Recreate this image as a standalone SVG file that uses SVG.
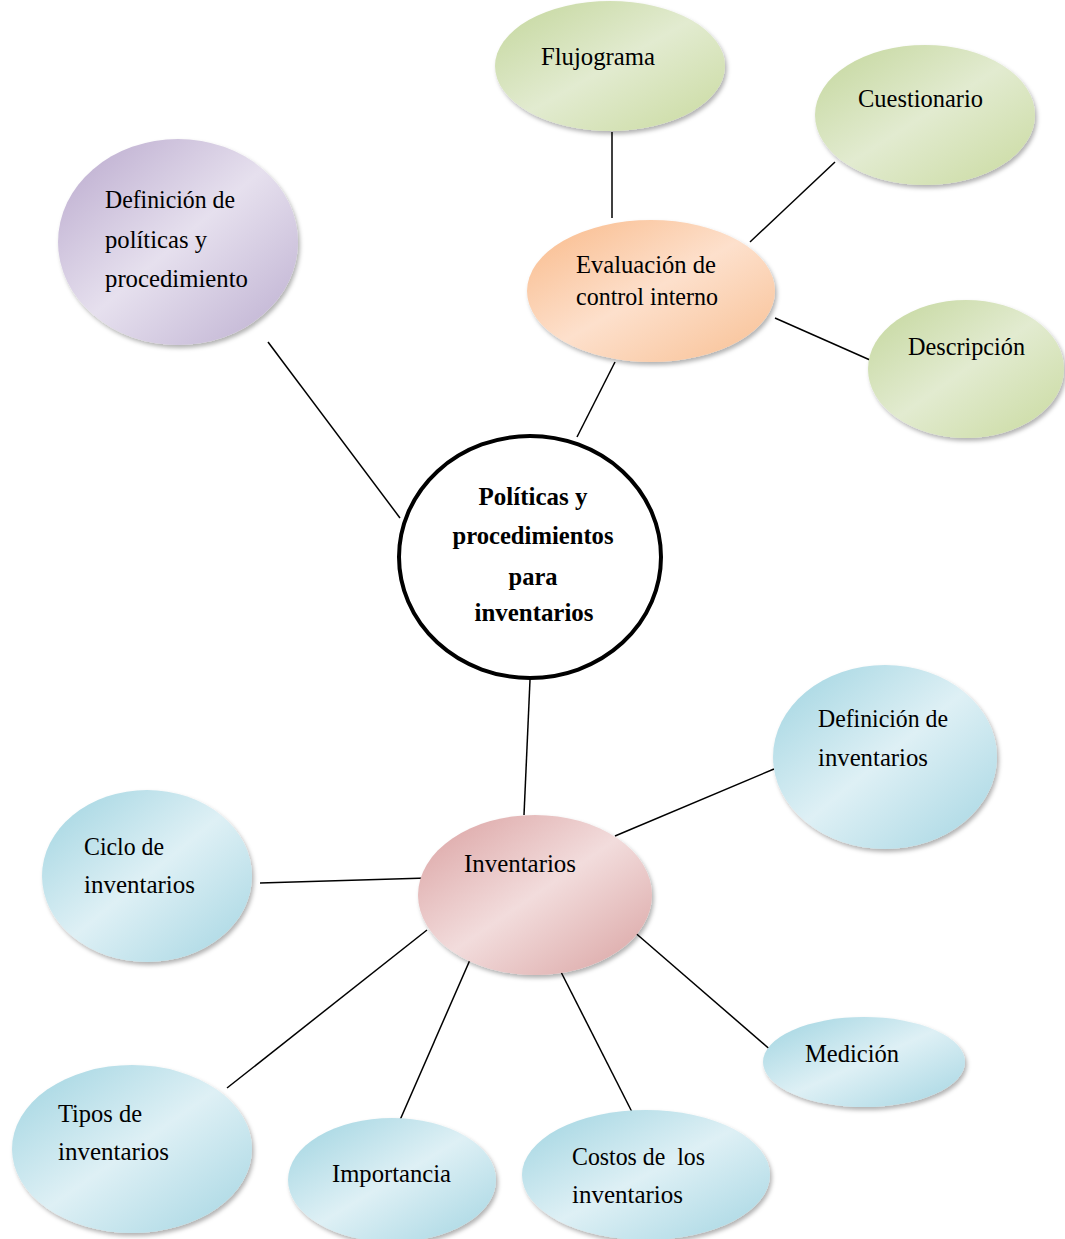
<svg xmlns="http://www.w3.org/2000/svg" width="1065" height="1239" viewBox="0 0 1065 1239">
<style>
.t{font-family:"Liberation Serif","Times New Roman",serif;font-size:26px;fill:#000;}
.b{font-weight:bold;text-anchor:middle;}
.c line{stroke:#000;stroke-width:1.5;}
.n ellipse{filter:url(#sh);}
</style>
<defs>
<filter id="sh" x="-10%" y="-10%" width="125%" height="125%">
<feDropShadow dx="2" dy="3" stdDeviation="2" flood-color="#000" flood-opacity="0.3"/>
</filter>
<linearGradient id="gG" x1="0" y1="0" x2="1" y2="1">
<stop offset="0" stop-color="#c3d69b"/><stop offset="0.5" stop-color="#e2ebd0"/><stop offset="1" stop-color="#c9da9f"/>
</linearGradient>
<linearGradient id="gP" x1="0" y1="0" x2="1" y2="1">
<stop offset="0" stop-color="#b8a7cc"/><stop offset="0.5" stop-color="#e6e0ee"/><stop offset="1" stop-color="#bcaed0"/>
</linearGradient>
<linearGradient id="gO" x1="0" y1="0" x2="1" y2="1">
<stop offset="0" stop-color="#f9b988"/><stop offset="0.5" stop-color="#fde0cc"/><stop offset="1" stop-color="#f8bf92"/>
</linearGradient>
<linearGradient id="gR" x1="0" y1="0" x2="1" y2="1">
<stop offset="0" stop-color="#daa0a0"/><stop offset="0.5" stop-color="#f2dcdc"/><stop offset="1" stop-color="#d9a2a1"/>
</linearGradient>
<linearGradient id="gB" x1="0" y1="0" x2="1" y2="1">
<stop offset="0" stop-color="#9ed3e0"/><stop offset="0.5" stop-color="#def0f5"/><stop offset="1" stop-color="#a4d5e2"/>
</linearGradient>
</defs>
<rect width="1065" height="1239" fill="#fff"/>
<g id="connectors" class="c">
<line x1="612" y1="132" x2="612" y2="218"/>
<line x1="835" y1="162" x2="750" y2="242"/>
<line x1="775" y1="318" x2="870" y2="360"/>
<line x1="615" y1="362" x2="577" y2="437"/>
<line x1="268" y1="342" x2="400" y2="518"/>
<line x1="530" y1="680" x2="524" y2="815"/>
<line x1="615" y1="836" x2="774" y2="769"/>
<line x1="260" y1="883" x2="427" y2="878"/>
<line x1="427" y1="930" x2="227" y2="1088"/>
<line x1="473" y1="953" x2="400" y2="1120"/>
<line x1="560" y1="970" x2="632" y2="1112"/>
<line x1="632" y1="930" x2="773" y2="1052"/>
</g>
<g id="flujograma" class="n"><ellipse cx="610" cy="66" rx="115" ry="65" fill="url(#gG)"/><text class="t" x="541" y="65" textLength="114" lengthAdjust="spacingAndGlyphs">Flujograma</text></g>
<g id="cuestionario" class="n"><ellipse cx="925" cy="115" rx="110" ry="70" fill="url(#gG)"/><text class="t" x="858" y="107" textLength="125" lengthAdjust="spacingAndGlyphs">Cuestionario</text></g>
<g id="descripcion" class="n"><ellipse cx="966" cy="369" rx="98" ry="69" fill="url(#gG)"/><text class="t" x="908" y="355" textLength="117" lengthAdjust="spacingAndGlyphs">Descripción</text></g>
<g id="definicion-politicas" class="n"><ellipse cx="178" cy="242" rx="120" ry="103" fill="url(#gP)"/>
<text class="t" x="105" y="208" textLength="130" lengthAdjust="spacingAndGlyphs">Definición de</text><text class="t" x="105" y="248" textLength="102" lengthAdjust="spacingAndGlyphs">políticas y</text><text class="t" x="105" y="287" textLength="143" lengthAdjust="spacingAndGlyphs">procedimiento</text></g>
<g id="evaluacion" class="n"><ellipse cx="651" cy="291" rx="124" ry="71" fill="url(#gO)"/>
<text class="t" x="576" y="273" textLength="140" lengthAdjust="spacingAndGlyphs">Evaluación de</text><text class="t" x="576" y="305" textLength="142" lengthAdjust="spacingAndGlyphs">control interno</text></g>
<g id="central"><ellipse cx="530" cy="557" rx="131" ry="121" fill="#fff" stroke="#000" stroke-width="4"/>
<text class="t b" x="533" y="505" textLength="109" lengthAdjust="spacingAndGlyphs">Políticas y</text><text class="t b" x="533" y="544" textLength="161" lengthAdjust="spacingAndGlyphs">procedimientos</text><text class="t b" x="533" y="585" textLength="49" lengthAdjust="spacingAndGlyphs">para</text><text class="t b" x="534" y="621" textLength="119" lengthAdjust="spacingAndGlyphs">inventarios</text></g>
<g id="inventarios" class="n"><ellipse cx="535" cy="895" rx="117" ry="80" fill="url(#gR)"/><text class="t" x="464" y="872" textLength="112" lengthAdjust="spacingAndGlyphs">Inventarios</text></g>
<g id="definicion-inventarios" class="n"><ellipse cx="885" cy="757" rx="112" ry="92" fill="url(#gB)"/>
<text class="t" x="818" y="727" textLength="130" lengthAdjust="spacingAndGlyphs">Definición de</text><text class="t" x="818" y="766" textLength="110" lengthAdjust="spacingAndGlyphs">inventarios</text></g>
<g id="ciclo" class="n"><ellipse cx="147" cy="876" rx="105" ry="86" fill="url(#gB)"/>
<text class="t" x="84" y="855" textLength="80" lengthAdjust="spacingAndGlyphs">Ciclo de</text><text class="t" x="84" y="893" textLength="111" lengthAdjust="spacingAndGlyphs">inventarios</text></g>
<g id="medicion" class="n"><ellipse cx="864" cy="1062" rx="101" ry="45" fill="url(#gB)"/><text class="t" x="805" y="1062" textLength="94" lengthAdjust="spacingAndGlyphs">Medición</text></g>
<g id="tipos" class="n"><ellipse cx="132" cy="1149" rx="120" ry="84" fill="url(#gB)"/>
<text class="t" x="58" y="1122" textLength="84" lengthAdjust="spacingAndGlyphs">Tipos de</text><text class="t" x="58" y="1160" textLength="111" lengthAdjust="spacingAndGlyphs">inventarios</text></g>
<g id="importancia" class="n"><ellipse cx="392" cy="1180" rx="104" ry="62" fill="url(#gB)"/><text class="t" x="332" y="1182" textLength="119" lengthAdjust="spacingAndGlyphs">Importancia</text></g>
<g id="costos" class="n"><ellipse cx="646" cy="1175" rx="124" ry="65" fill="url(#gB)"/>
<text class="t" x="572" y="1165" textLength="133" lengthAdjust="spacingAndGlyphs" xml:space="preserve">Costos de  los</text><text class="t" x="572" y="1203" textLength="111" lengthAdjust="spacingAndGlyphs">inventarios</text></g>
</svg>
